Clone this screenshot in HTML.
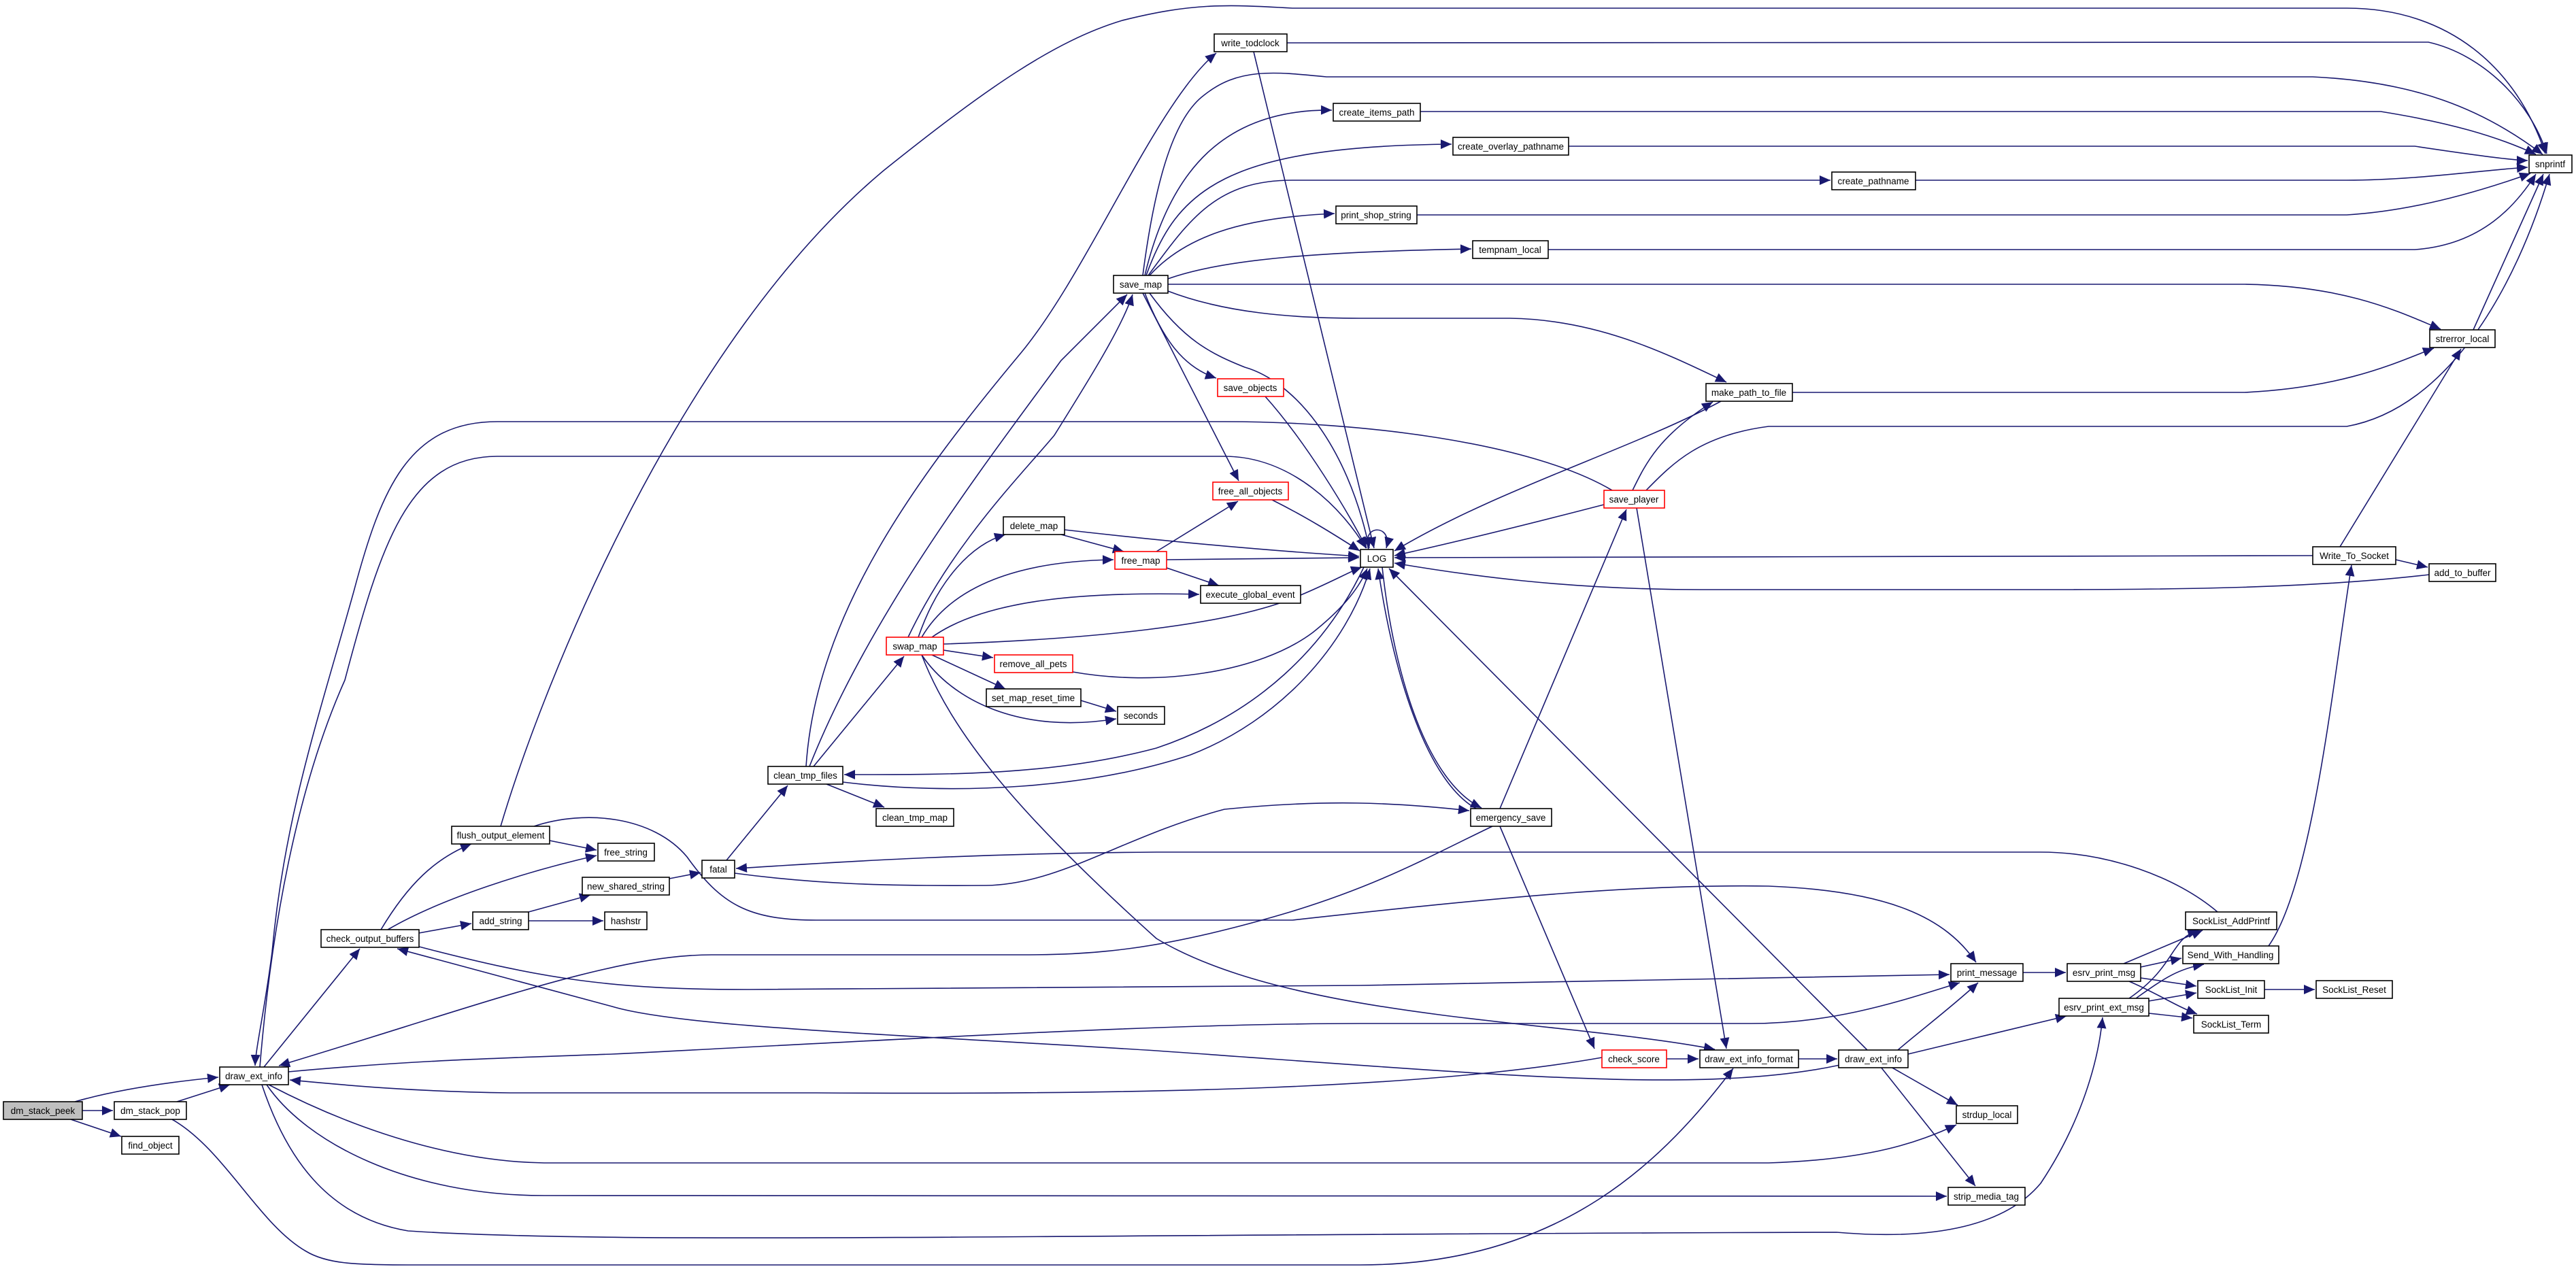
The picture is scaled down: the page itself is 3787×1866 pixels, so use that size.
<!DOCTYPE html>
<html><head><meta charset="utf-8"><style>
html,body{margin:0;padding:0;background:#fff;}
svg{display:block;}
text{font-family:"Liberation Sans",sans-serif;font-size:13.5px;fill:#000;}
.e{fill:none;stroke:#191970;stroke-width:1.6;marker-end:url(#ah);}
.n{fill:#fff;stroke:#000;stroke-width:1.6;}
.r{fill:#fff;stroke:#ff0000;stroke-width:1.6;}
</style></head><body>
<svg width="3787" height="1866" viewBox="0 0 3787 1866" xmlns="http://www.w3.org/2000/svg">
<defs><marker id="ah" markerUnits="userSpaceOnUse" markerWidth="18" markerHeight="14" refX="16" refY="7" orient="auto"><path d="M0,0 L16,7 L0,14 z" fill="#191970"/></marker></defs>
<g>
<path class="e" d="M110,1620 C180,1600 260,1590 321,1584"/>
<path class="e" d="M121,1633 L166,1633"/>
<path class="e" d="M104,1646 L178,1671"/>
<path class="e" d="M260,1620 L338,1595"/>
<path class="e" d="M253,1646 C330,1690 380,1800 450,1840 C480,1858 520,1860 600,1860 L2000,1860 C2300,1860 2450,1700 2548,1571"/>
<path class="e" d="M2370,721 C2250,650 2000,620 1800,620 L731,620 C600,620 560,720 520,870 C470,1050 418,1200 400,1400 C390,1480 376,1540 375,1567"/>
<path class="e" d="M382,1569 C400,1350 440,1150 507,1000 C560,800 600,671 731,671 L1800,671 C1900,671 1975,750 2008,806"/>
<path class="e" d="M388,1569 L529,1395"/>
<path class="e" d="M560,1367 C600,1300 640,1262 693,1241"/>
<path class="e" d="M570,1367 C650,1320 780,1280 877,1258"/>
<path class="e" d="M616,1372 L693,1358"/>
<path class="e" d="M616,1392 C800,1440 900,1455 1100,1455 L2000,1449 L2866,1433"/>
<path class="e" d="M2194,1215 C2100,1260 2030,1300 1900,1340 C1700,1400 1600,1404 1500,1404 L1046,1404 C900,1404 700,1480 410,1567"/>
<path class="e" d="M2705,1566 C2500,1610 2200,1580 1700,1545 C1300,1520 1000,1510 900,1480 L584,1395"/>
<path class="e" d="M2355,1555 C2100,1600 1700,1610 1200,1607 L750,1607 C600,1605 500,1595 426,1588"/>
<path class="e" d="M424,1576 C600,1560 700,1557 900,1550 C1300,1530 1700,1505 2000,1505 L2574,1505 C2700,1505 2800,1470 2881,1445"/>
<path class="e" d="M395,1595 C500,1650 650,1708 800,1710 L2600,1710 C2750,1705 2820,1680 2876,1654"/>
<path class="e" d="M392,1595 C450,1680 600,1758 800,1758 L2862,1759"/>
<path class="e" d="M385,1595 C420,1700 480,1790 600,1810 C900,1830 1500,1815 2700,1812 C2850,1825 2950,1800 3000,1740 C3060,1650 3085,1560 3091,1496"/>
<path class="e" d="M736,1215 C800,1000 1000,500 1300,250 C1450,130 1550,60 1650,30 C1750,5 1800,6 1900,12 L3450,12 C3600,12 3700,100 3742,226"/>
<path class="e" d="M808,1236 L877,1250"/>
<path class="e" d="M785,1215 C860,1190 960,1200 1010,1260 C1060,1330 1100,1353 1200,1353 L1900,1353 C2200,1320 2400,1300 2600,1303 C2780,1310 2860,1350 2905,1415"/>
<path class="e" d="M777,1341 L868,1316"/>
<path class="e" d="M777,1354 L887,1354"/>
<path class="e" d="M984,1292 L1030,1283"/>
<path class="e" d="M1068,1265 L1158,1155"/>
<path class="e" d="M3260,1341 C3200,1290 3100,1253 3000,1253 L1700,1253 C1400,1255 1200,1270 1082,1277"/>
<path class="e" d="M1080,1284 C1200,1300 1300,1303 1450,1302 C1560,1300 1650,1230 1800,1190 C1950,1175 2050,1180 2160,1192"/>
<path class="e" d="M1215,1153 L1300,1187"/>
<path class="e" d="M1196,1127 L1329,965"/>
<path class="e" d="M1190,1127 C1280,900 1450,680 1560,530 C1610,480 1640,450 1657,433"/>
<path class="e" d="M1185,1127 C1200,900 1350,700 1500,520 C1600,400 1700,150 1788,78"/>
<path class="e" d="M1335,937 C1400,800 1500,700 1550,640 C1600,560 1650,480 1665,433"/>
<path class="e" d="M2005,834 C1950,950 1850,1050 1700,1100 C1550,1140 1400,1139 1241,1139"/>
<path class="e" d="M1239,1150 C1400,1170 1600,1160 1750,1110 C1880,1060 1980,950 2014,836"/>
<path class="e" d="M1350,937 C1380,850 1430,800 1478,786"/>
<path class="e" d="M1355,937 C1400,860 1500,825 1637,823"/>
<path class="e" d="M1370,937 C1450,880 1600,870 1763,874"/>
<path class="e" d="M1387,947 C1600,940 1800,920 1900,880 C1950,860 1985,840 2002,834"/>
<path class="e" d="M1387,956 L1460,967"/>
<path class="e" d="M1370,963 L1478,1013"/>
<path class="e" d="M1355,963 C1400,1030 1500,1080 1641,1057"/>
<path class="e" d="M1355,963 C1400,1080 1500,1200 1700,1380 C1900,1500 2300,1500 2521,1543"/>
<path class="e" d="M1560,786 L1652,811"/>
<path class="e" d="M1565,779 C1750,800 1900,812 1998,818"/>
<path class="e" d="M1700,811 L1820,737"/>
<path class="e" d="M1715,823 L1998,820"/>
<path class="e" d="M1715,835 L1792,861"/>
<path class="e" d="M1870,735 C1920,760 1960,785 1999,810"/>
<path class="e" d="M1577,988 C1700,1010 1850,990 1930,930 C1980,890 2000,860 2010,836"/>
<path class="e" d="M1589,1030 L1641,1046"/>
<path class="e" d="M1680,405 C1700,250 1730,170 1770,140 C1820,100 1870,105 1950,113 L3400,113 C3550,120 3650,160 3738,227"/>
<path class="e" d="M1683,405 C1720,250 1800,160 1958,162"/>
<path class="e" d="M1685,405 C1730,280 1800,215 2134,212"/>
<path class="e" d="M1688,405 C1750,320 1790,265 1900,265 L2691,265"/>
<path class="e" d="M1690,405 C1740,350 1820,320 1962,314"/>
<path class="e" d="M1717,410 C1800,380 1950,370 2163,366"/>
<path class="e" d="M1717,418 L3300,418 C3450,420 3530,460 3588,484"/>
<path class="e" d="M1717,428 C1800,460 1900,468 2000,468 L2220,468 C2350,470 2450,520 2538,562"/>
<path class="e" d="M1683,431 C1710,500 1740,540 1788,556"/>
<path class="e" d="M1680,431 L1821,707"/>
<path class="e" d="M1690,431 C1740,500 1780,520 1830,540 C1900,560 1980,650 2013,806"/>
<path class="e" d="M1892,63 L3570,62 C3650,80 3720,150 3744,226"/>
<path class="e" d="M1843,76 L2020,806"/>
<path class="e" d="M2088,164 L3500,164 C3600,180 3670,200 3728,227"/>
<path class="e" d="M2306,215 L3550,215 C3650,230 3700,236 3716,236"/>
<path class="e" d="M2816,265 L3450,265 C3550,265 3650,250 3716,246"/>
<path class="e" d="M2083,316 L3450,316 C3550,310 3650,280 3720,255"/>
<path class="e" d="M2276,367 L3550,367 C3650,360 3700,300 3728,256"/>
<path class="e" d="M1860,583 C1920,650 1980,750 2009,806"/>
<path class="e" d="M2635,577 L3300,577 C3450,570 3530,530 3578,512"/>
<path class="e" d="M3636,485 L3739,256"/>
<path class="e" d="M2400,721 C2420,680 2440,640 2518,591"/>
<path class="e" d="M2530,590 C2400,660 2200,720 2050,810"/>
<path class="e" d="M2358,742 C2250,770 2150,795 2050,817"/>
<path class="e" d="M2420,721 C2460,680 2500,640 2600,627 L3450,627 C3600,600 3700,420 3748,256"/>
<path class="e" d="M2406,747 L2538,1542"/>
<path class="e" d="M3400,817 L2050,820"/>
<path class="e" d="M3440,804 L3618,513"/>
<path class="e" d="M3522,823 L3569,834"/>
<path class="e" d="M3571,845 C3400,865 3200,867 3000,867 L2500,867 C2300,867 2150,845 2050,828"/>
<path class="e" d="M2012,808 C2000,770 2048,770 2038,806"/>
<path class="e" d="M2170,1189 C2100,1150 2050,1000 2026,836"/>
<path class="e" d="M2032,834 C2050,1000 2100,1150 2178,1188"/>
<path class="e" d="M2205,1189 L2391,749"/>
<path class="e" d="M2205,1215 L2344,1542"/>
<path class="e" d="M2450,1557 L2497,1557"/>
<path class="e" d="M2644,1557 L2701,1557"/>
<path class="e" d="M2745,1544 L2042,836"/>
<path class="e" d="M2790,1544 C2830,1510 2870,1480 2908,1445"/>
<path class="e" d="M2805,1550 L3038,1494"/>
<path class="e" d="M2780,1569 L2878,1625"/>
<path class="e" d="M2765,1569 L2904,1744"/>
<path class="e" d="M2974,1430 L3037,1430"/>
<path class="e" d="M3122,1417 L3238,1368"/>
<path class="e" d="M3147,1422 L3207,1409"/>
<path class="e" d="M3147,1438 L3229,1450"/>
<path class="e" d="M3130,1443 C3170,1460 3200,1480 3230,1491"/>
<path class="e" d="M3130,1468 C3200,1420 3190,1380 3232,1368"/>
<path class="e" d="M3140,1468 C3180,1440 3200,1425 3240,1418"/>
<path class="e" d="M3159,1472 L3229,1460"/>
<path class="e" d="M3159,1490 L3223,1497"/>
<path class="e" d="M3329,1455 L3403,1455"/>
<path class="e" d="M3335,1391 C3400,1300 3430,1000 3457,831"/>
</g>
<g>
<rect x="5" y="1620" width="116" height="26" fill="#bfbfbf" stroke="#000" stroke-width="1.6"/><text x="63" y="1638" text-anchor="middle">dm_stack_peek</text>
<rect class="n" x="168" y="1620" width="106" height="26"/><text x="221" y="1638" text-anchor="middle">dm_stack_pop</text>
<rect class="n" x="179" y="1671" width="84" height="26"/><text x="221" y="1689" text-anchor="middle">find_object</text>
<rect class="n" x="323" y="1569" width="101" height="26"/><text x="373" y="1587" text-anchor="middle">draw_ext_info</text>
<rect class="n" x="472" y="1367" width="144" height="26"/><text x="544" y="1385" text-anchor="middle">check_output_buffers</text>
<rect class="n" x="664" y="1215" width="144" height="26"/><text x="736" y="1233" text-anchor="middle">flush_output_element</text>
<rect class="n" x="879" y="1240" width="83" height="26"/><text x="920" y="1258" text-anchor="middle">free_string</text>
<rect class="n" x="695" y="1341" width="82" height="26"/><text x="736" y="1359" text-anchor="middle">add_string</text>
<rect class="n" x="856" y="1290" width="128" height="26"/><text x="920" y="1308" text-anchor="middle">new_shared_string</text>
<rect class="n" x="889" y="1341" width="62" height="26"/><text x="920" y="1359" text-anchor="middle">hashstr</text>
<rect class="n" x="1032" y="1265" width="48" height="26"/><text x="1056" y="1283" text-anchor="middle">fatal</text>
<rect class="n" x="1129" y="1127" width="110" height="26"/><text x="1184" y="1145" text-anchor="middle">clean_tmp_files</text>
<rect class="n" x="1288" y="1189" width="114" height="26"/><text x="1345" y="1207" text-anchor="middle">clean_tmp_map</text>
<rect class="r" x="1303" y="937" width="84" height="26"/><text x="1345" y="955" text-anchor="middle">swap_map</text>
<rect class="n" x="1475" y="760" width="90" height="26"/><text x="1520" y="778" text-anchor="middle">delete_map</text>
<rect class="r" x="1639" y="811" width="76" height="26"/><text x="1677" y="829" text-anchor="middle">free_map</text>
<rect class="r" x="1783" y="709" width="111" height="26"/><text x="1838" y="727" text-anchor="middle">free_all_objects</text>
<rect class="n" x="1765" y="861" width="147" height="26"/><text x="1838" y="879" text-anchor="middle">execute_global_event</text>
<rect class="r" x="1462" y="963" width="115" height="26"/><text x="1519" y="981" text-anchor="middle">remove_all_pets</text>
<rect class="n" x="1450" y="1013" width="139" height="26"/><text x="1519" y="1031" text-anchor="middle">set_map_reset_time</text>
<rect class="n" x="1643" y="1039" width="69" height="26"/><text x="1677" y="1057" text-anchor="middle">seconds</text>
<rect class="n" x="1637" y="405" width="80" height="26"/><text x="1677" y="423" text-anchor="middle">save_map</text>
<rect class="n" x="1785" y="50" width="107" height="26"/><text x="1838" y="68" text-anchor="middle">write_todclock</text>
<rect class="n" x="1960" y="152" width="128" height="26"/><text x="2024" y="170" text-anchor="middle">create_items_path</text>
<rect class="n" x="2136" y="202" width="170" height="26"/><text x="2221" y="220" text-anchor="middle">create_overlay_pathname</text>
<rect class="n" x="2693" y="253" width="123" height="26"/><text x="2754" y="271" text-anchor="middle">create_pathname</text>
<rect class="n" x="1964" y="303" width="119" height="26"/><text x="2023" y="321" text-anchor="middle">print_shop_string</text>
<rect class="n" x="2165" y="354" width="111" height="26"/><text x="2220" y="372" text-anchor="middle">tempnam_local</text>
<rect class="r" x="1790" y="557" width="97" height="26"/><text x="1838" y="575" text-anchor="middle">save_objects</text>
<rect class="n" x="2508" y="564" width="127" height="26"/><text x="2571" y="582" text-anchor="middle">make_path_to_file</text>
<rect class="n" x="2000" y="808" width="48" height="26"/><text x="2024" y="826" text-anchor="middle">LOG</text>
<rect class="r" x="2358" y="721" width="89" height="26"/><text x="2402" y="739" text-anchor="middle">save_player</text>
<rect class="n" x="2162" y="1189" width="119" height="26"/><text x="2221" y="1207" text-anchor="middle">emergency_save</text>
<rect class="r" x="2355" y="1544" width="95" height="26"/><text x="2402" y="1562" text-anchor="middle">check_score</text>
<rect class="n" x="2499" y="1544" width="145" height="26"/><text x="2571" y="1562" text-anchor="middle">draw_ext_info_format</text>
<rect class="n" x="2703" y="1544" width="102" height="26"/><text x="2754" y="1562" text-anchor="middle">draw_ext_info</text>
<rect class="n" x="2868" y="1417" width="106" height="26"/><text x="2921" y="1435" text-anchor="middle">print_message</text>
<rect class="n" x="3039" y="1417" width="108" height="26"/><text x="3093" y="1435" text-anchor="middle">esrv_print_msg</text>
<rect class="n" x="3027" y="1468" width="132" height="26"/><text x="3093" y="1486" text-anchor="middle">esrv_print_ext_msg</text>
<rect class="n" x="3213" y="1341" width="134" height="26"/><text x="3280" y="1359" text-anchor="middle">SockList_AddPrintf</text>
<rect class="n" x="3209" y="1391" width="141" height="26"/><text x="3279" y="1409" text-anchor="middle">Send_With_Handling</text>
<rect class="n" x="3231" y="1442" width="98" height="26"/><text x="3280" y="1460" text-anchor="middle">SockList_Init</text>
<rect class="n" x="3405" y="1442" width="112" height="26"/><text x="3461" y="1460" text-anchor="middle">SockList_Reset</text>
<rect class="n" x="3225" y="1493" width="110" height="26"/><text x="3280" y="1511" text-anchor="middle">SockList_Term</text>
<rect class="n" x="2876" y="1626" width="90" height="26"/><text x="2921" y="1644" text-anchor="middle">strdup_local</text>
<rect class="n" x="2864" y="1746" width="113" height="26"/><text x="2920" y="1764" text-anchor="middle">strip_media_tag</text>
<rect class="n" x="3718" y="228" width="63" height="26"/><text x="3749" y="246" text-anchor="middle">snprintf</text>
<rect class="n" x="3572" y="485" width="96" height="26"/><text x="3620" y="503" text-anchor="middle">strerror_local</text>
<rect class="n" x="3400" y="804" width="122" height="26"/><text x="3461" y="822" text-anchor="middle">Write_To_Socket</text>
<rect class="n" x="3571" y="829" width="98" height="26"/><text x="3620" y="847" text-anchor="middle">add_to_buffer</text>
</g>
</svg>
</body></html>
